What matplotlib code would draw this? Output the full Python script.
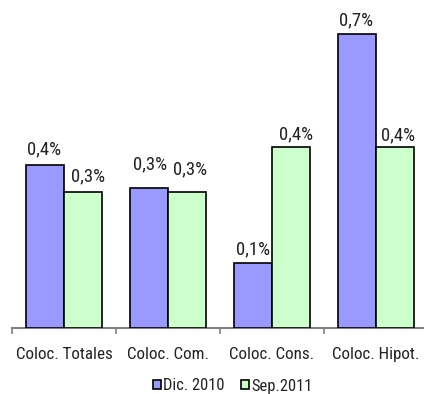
import matplotlib
matplotlib.use("Agg")
import matplotlib.pyplot as plt
from matplotlib import font_manager

categories = ["Coloc. Totales", "Coloc. Com.", "Coloc. Cons.", "Coloc. Hipot."]
series_names = ["Dic. 2010", "Sep.2011"]
dic2010 = [0.377, 0.325, 0.149, 0.68]
sep2011 = [0.315, 0.315, 0.419, 0.419]

# label offsets in pixels (dx, dy) per series
off_dic = [(-1, 11), (1, 18), (0, 9), (-1, 9)]
off_sep = [(5, 11), (3, 18), (5, 8), (3, 7)]

names = {f.name for f in font_manager.fontManager.ttflist}
prefs = ["Liberation Sans Narrow", "Arial Narrow", "Nimbus Sans Narrow", "Arimo Narrow",
         "Roboto Condensed", "Archivo Narrow", "PT Sans Narrow", "Open Sans Condensed",
         "Barlow Semi Condensed", "Liberation Sans"]
fam = next(p for p in prefs if p in names)
plt.rcParams["font.family"] = [fam, "DejaVu Sans"]

W, H = 424, 394
fig = plt.figure(figsize=(W / 100, H / 100), dpi=100)
renderer = fig.canvas.get_renderer()

def size_for(text, target_px, base=12):
    t = fig.text(0, 0, text, fontsize=base)
    w = t.get_window_extent(renderer).width
    t.remove()
    return base * target_px / w

fs_cat = size_for("Coloc. Totales", 97)
fs_lab = size_for("0,4%", 34)
fs_leg = size_for("Dic. 2010", 61)

left, right, bottom, top = 12, 424, 327.7, 0
ax = fig.add_axes([left / W, 1 - bottom / H, (right - left) / W, (bottom - top) / H])

x = list(range(len(categories)))
bw = 38 / 104
c_dic = "#9999FF"
c_sep = "#CCFFCC"
b1 = ax.bar([i - bw / 2 for i in x], dic2010, bw, color=c_dic, edgecolor="black",
            linewidth=1.2, label=series_names[0], zorder=3)
b2 = ax.bar([i + bw / 2 for i in x], sep2011, bw, color=c_sep, edgecolor="black",
            linewidth=1.2, label=series_names[1], zorder=3)

def fmt(v):
    return f"{v:.1f}".replace(".", ",") + "%"

for bars, vals, offs in ((b1, dic2010, off_dic), (b2, sep2011, off_sep)):
    for r, v, (dx, dy) in zip(bars, vals, offs):
        ax.annotate(fmt(v), (r.get_x() + r.get_width() / 2, r.get_height()),
                    xytext=(dx, dy), textcoords="offset pixels",
                    ha="center", va="baseline", fontsize=fs_lab, color="#222222")

ax.set_xlim(-0.5, -0.5 + (right - left) / 104)
ax.set_ylim(0, (bottom - top) / 431.2)

for s in ("top", "right", "left"):
    ax.spines[s].set_visible(False)
ax.spines["bottom"].set_color("#808080")
ax.spines["bottom"].set_linewidth(1.5)
ax.set_yticks([])
ax.set_xticks([-0.5, 0.5, 1.5, 2.5])
ax.set_xticklabels([])
ax.tick_params(axis="x", which="major", direction="out", length=4.5, width=1.2, color="#808080")
ax.set_xticks(x, minor=True)
ax.set_xticklabels(categories, minor=True, fontsize=fs_cat, color="#222222")
ax.tick_params(axis="x", which="minor", length=0, pad=14)

leg = fig.legend(handles=[b1, b2], labels=series_names, loc="center",
                 bbox_to_anchor=(233 / W, 1 - 386 / H), ncol=2, frameon=False,
                 fontsize=fs_leg, handlelength=0.45, handleheight=0.45,
                 handletextpad=0.15, columnspacing=1.0, borderpad=0)
for t in leg.get_texts():
    t.set_color("#222222")

fig.savefig("out.png", dpi=100)
